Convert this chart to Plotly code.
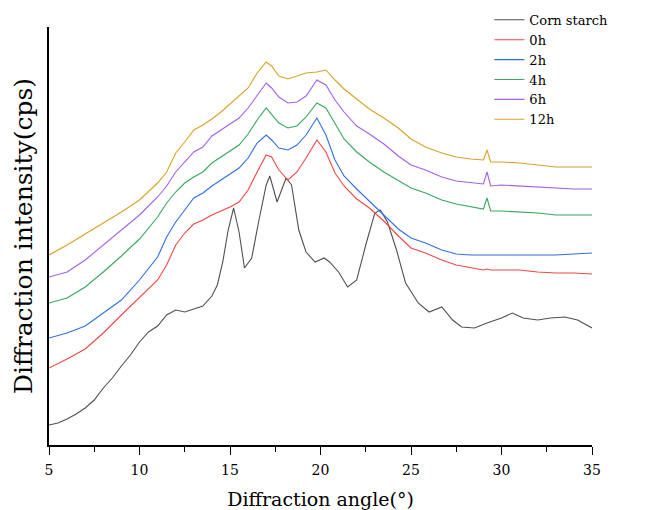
import plotly.graph_objects as go

# Corn starch (own angle grid)
corn_angle = [5, 5.5, 6, 6.5, 7, 7.5, 8, 8.5, 9, 9.5, 10, 10.5, 11, 11.5, 12, 12.5, 13, 13.5,
              14, 14.3, 14.6, 14.9, 15.2, 15.5, 15.8, 16.2, 16.6, 17, 17.2, 17.6, 18.1, 18.4,
              18.8, 19.2, 19.7, 20.2, 20.5, 21, 21.5, 22, 22.5, 23, 23.3, 23.7, 24.2, 24.7,
              25.4, 26, 26.7, 27.3, 27.8, 28.5, 29.2, 30, 30.6, 31.2, 32, 32.7, 33.5, 34.2, 35]
corn_starch = [20, 22, 26, 31, 37, 45, 57, 67, 79, 90, 103, 113, 119, 130, 135, 133, 136, 139,
               149, 160, 183, 215, 237, 213, 177, 187, 225, 260, 269, 243, 267, 260,
               215, 193, 183, 187, 183, 173, 158, 165, 200, 232, 235, 223, 195, 162,
               142, 133, 138, 125, 118, 117, 122, 127, 132, 127, 125, 127, 128, 125, 117]

# Treated samples (shared angle grid)
angle = [5, 6, 7, 8, 9, 10, 11, 11.5, 12, 12.5, 13, 13.5, 14, 14.5, 15, 15.5, 16, 16.5, 17,
         17.3, 17.7, 18.2, 18.7, 19.2, 19.8, 20.3, 20.8, 21.3, 22, 22.7, 23.5, 24.3, 25, 25.8,
         26.7, 27.5, 28.3, 29, 29.2, 29.4, 30, 31, 32, 33, 34, 35]
h0 = [77, 86, 96, 112, 130, 148, 165, 180, 200, 212, 221, 225, 230, 234, 238, 243, 255, 273, 290,
      288, 275, 265, 273, 287, 305, 293, 272, 259, 246, 237, 224, 209, 197, 192,
      185, 180, 177, 175, 176, 175, 175, 175, 173, 172, 172, 171]
h2 = [107, 112, 119, 132, 145, 165, 188, 208, 223, 235, 247, 252, 259, 265, 271, 277, 287, 302, 310,
      305, 297, 295, 300, 310, 327, 310, 285, 269, 256, 244, 230, 216, 207, 202,
      195, 191, 190, 190, 190, 190, 190, 190, 190, 190, 191, 192]
h4 = [142, 147, 158, 173, 189, 206, 228, 242, 253, 262, 268, 273, 282, 288, 294, 300, 311, 325, 337,
      331, 322, 317, 319, 328, 342, 337, 321, 306, 293, 283, 273, 264, 257, 252,
      245, 241, 238, 236, 247, 234, 234, 233, 232, 230, 230, 230]
h6 = [168, 173, 185, 200, 215, 230, 248, 259, 273, 283, 293, 298, 309, 315, 321, 327, 337, 350, 362,
      357, 348, 342, 343, 349, 365, 360, 345, 333, 319, 311, 301, 289, 280, 275,
      268, 264, 262, 261, 273, 259, 260, 259, 258, 257, 256, 256]
h12 = [190, 200, 211, 222, 233, 245, 262, 273, 292, 303, 315, 320, 326, 333, 341, 348, 357, 372, 383,
       379, 369, 366, 369, 372, 373, 375, 365, 356, 346, 336, 327, 317, 306, 298,
       292, 288, 286, 285, 295, 283, 283, 282, 280, 278, 278, 278]

x_ticks = [5, 10, 15, 20, 25, 30, 35]

series = [
    ("Corn starch", corn_angle, corn_starch, "#505050"),
    ("0h", angle, h0, "#f04646"),
    ("2h", angle, h2, "#2f6fe4"),
    ("4h", angle, h4, "#3aa660"),
    ("6h", angle, h6, "#a45fe6"),
    ("12h", angle, h12, "#d6a325"),
]

FONT = "DejaVu Serif"

fig = go.Figure()
for name, xs, ys, col in series:
    fig.add_trace(go.Scatter(x=xs, y=ys, mode="lines", name=name,
                             line=dict(color=col, width=1.1)))

# page body has an 8px margin, so the figure is 638x502 placed at (8, 8)
fig.update_layout(
    width=638, height=502,
    margin=dict(l=41, r=54, t=19, b=65, autoexpand=False),
    paper_bgcolor="white", plot_bgcolor="white",
    font=dict(family=FONT, color="black"),
    legend=dict(x=0.811, y=1.053, xanchor="left", yanchor="top",
                bgcolor="rgba(0,0,0,0)", font=dict(family=FONT, size=13, color="black"),
                tracegroupgap=0),
    showlegend=True,
)
fig.update_xaxes(range=[5, 35], tickvals=x_ticks, ticks="outside", ticklen=8, tickwidth=1.2,
                 tickcolor="black", showline=True, linecolor="black", linewidth=1.5,
                 showgrid=False, zeroline=False, automargin=False, ticklabelstandoff=3,
                 tickfont=dict(family=FONT, size=14, color="black"),
                 minor=dict(dtick=2.5, ticks="outside", ticklen=5, tickwidth=1, tickcolor="black"),
                 title=dict(text="Diffraction angle(°)", font=dict(family=FONT, size=19),
                            standoff=24))
fig.update_yaxes(range=[0, 418], showticklabels=False, ticks="", showline=True,
                 linecolor="black", linewidth=1.5, showgrid=False, zeroline=False,
                 automargin=False,
                 title=dict(text="Diffraction intensity(cps)", font=dict(family=FONT, size=25),
                            standoff=8))

fig.write_html("out.html")
